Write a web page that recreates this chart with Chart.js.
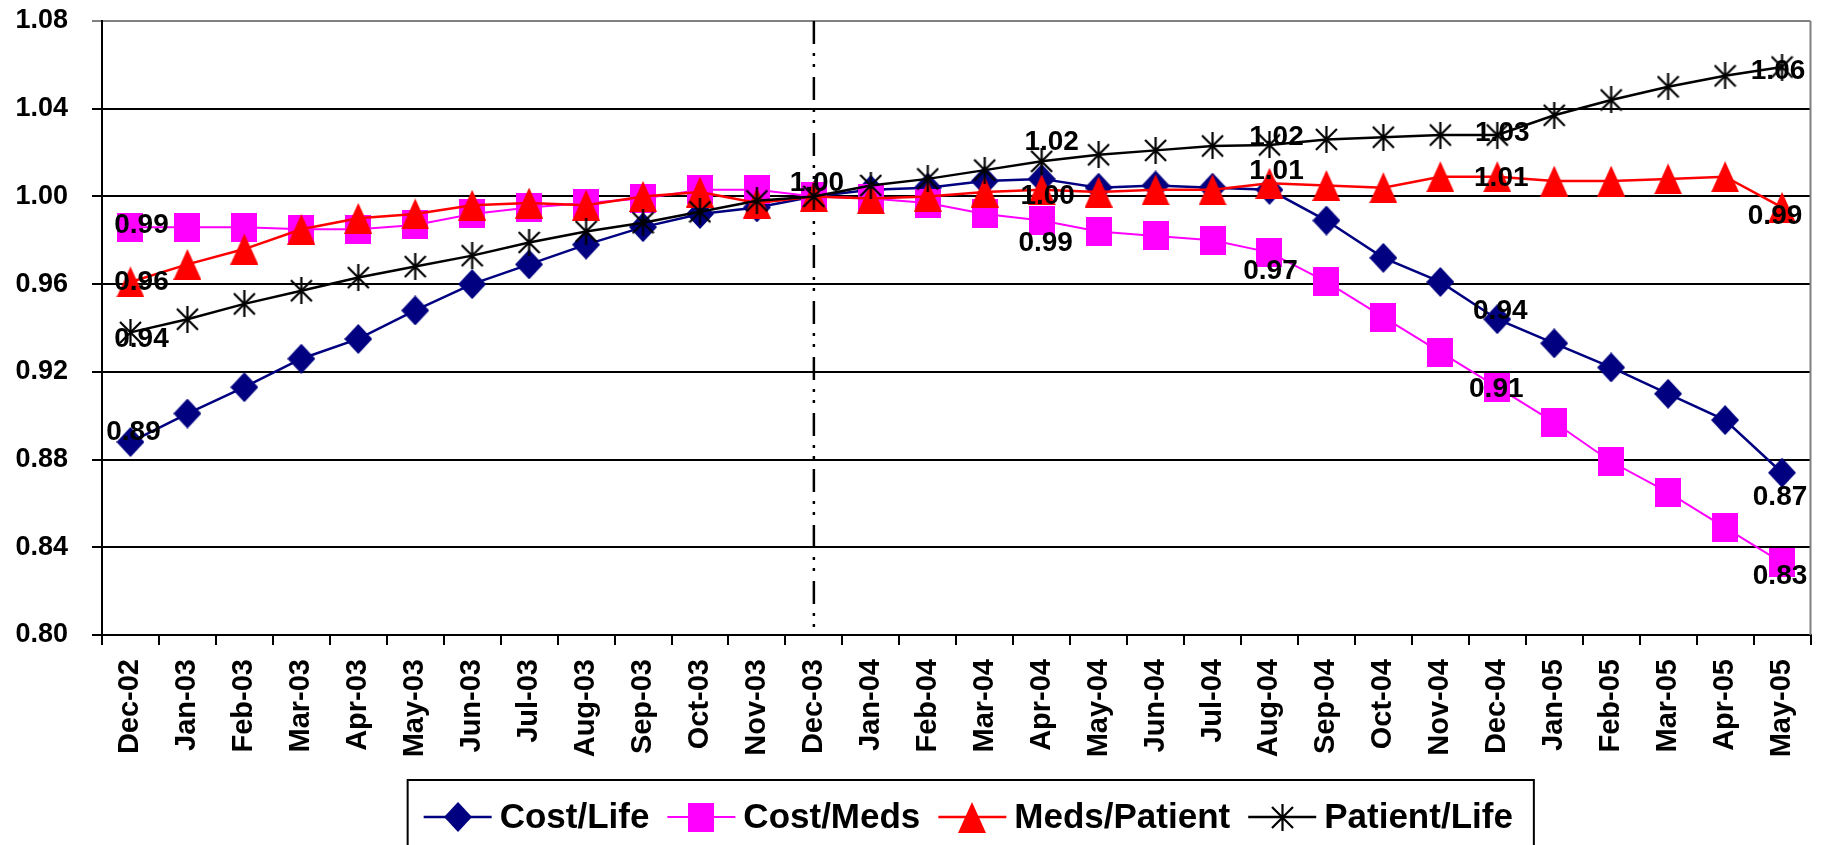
<!DOCTYPE html>
<html><head><meta charset="utf-8">
<script src="https://cdn.jsdelivr.net/npm/chart.js@4.4.0/dist/chart.umd.min.js"></script>
<style>html,body{margin:0;padding:0;background:#fff;overflow:hidden}canvas{display:block}</style>
</head><body>
<canvas id="c" width="1825" height="845"></canvas>
<script>
// ---------------- data ----------------
const categories = ['Dec-02','Jan-03','Feb-03','Mar-03','Apr-03','May-03','Jun-03','Jul-03','Aug-03','Sep-03','Oct-03','Nov-03',
  'Dec-03','Jan-04','Feb-04','Mar-04','Apr-04','May-04','Jun-04','Jul-04','Aug-04','Sep-04','Oct-04','Nov-04',
  'Dec-04','Jan-05','Feb-05','Mar-05','Apr-05','May-05'];
const costPerLife    = [0.888,0.901,0.913,0.926,0.935,0.948,0.960,0.969,0.978,0.986,0.992,0.995,
  1.000,1.003,1.004,1.007,1.008,1.004,1.005,1.004,1.003,0.989,0.972,0.961,0.944,0.933,0.922,0.910,0.898,0.874];
const costPerMeds    = [0.986,0.986,0.986,0.985,0.985,0.987,0.992,0.995,0.997,0.999,1.003,1.003,
  1.000,0.999,0.997,0.992,0.989,0.984,0.982,0.980,0.9745,0.961,0.945,0.929,0.913,0.897,0.879,0.865,0.849,0.833];
const medsPerPatient = [0.961,0.969,0.976,0.985,0.990,0.992,0.996,0.997,0.996,1.000,1.002,0.997,
  1.000,0.999,1.000,1.002,1.003,1.002,1.003,1.003,1.006,1.005,1.004,1.009,1.009,1.007,1.007,1.008,1.009,0.995];
const patientPerLife = [0.938,0.944,0.951,0.957,0.963,0.968,0.973,0.979,0.984,0.988,0.993,0.998,
  1.000,1.005,1.008,1.012,1.016,1.019,1.021,1.023,1.0235,1.026,1.027,1.028,1.028,1.037,1.044,1.050,1.055,1.059];
const seriesNames = ['Cost/Life','Cost/Meds','Meds/Patient','Patient/Life'];
const yTicks = [0.80,0.84,0.88,0.92,0.96,1.00,1.04,1.08];
const dividerCategory = 'Dec-03';
// which points carry a value label (index -> [dx, dy] placement offset in px)
const labelPlacement = [
  {0:[3,-10], 24:[3,-8], 29:[-2,25]},
  {0:[11,-2], 16:[4,23], 20:[1,19], 24:[-1,2], 29:[-2,14]},
  {0:[11,0], 16:[6,6], 20:[7,-12], 24:[4,2], 29:[-7,9]},
  {0:[11,7], 12:[3,-13], 16:[10,-19], 20:[7,-8], 24:[5,-2], 29:[-4,4]}
];

// ---------------- markers ----------------
function makeMarker(w, h, draw){ const c=document.createElement('canvas'); c.width=w; c.height=h; draw(c.getContext('2d'),w,h); return c; }
const diamond = makeMarker(28,30,(g,w,h)=>{g.fillStyle='#000080';g.beginPath();g.moveTo(w/2,0);g.lineTo(w,h/2);g.lineTo(w/2,h);g.lineTo(0,h/2);g.closePath();g.fill();});
const square = makeMarker(26,29,(g,w,h)=>{g.fillStyle='#FF00FF';g.fillRect(0,0,w,h);});
const triangle = makeMarker(28,31,(g,w,h)=>{g.fillStyle='#FF0000';g.beginPath();g.moveTo(w/2,0);g.lineTo(w,h);g.lineTo(0,h);g.closePath();g.fill();});
const star = makeMarker(23,27,(g,w,h)=>{g.strokeStyle='#000';g.lineWidth=2.2;g.beginPath();g.moveTo(w/2,0);g.lineTo(w/2,h);g.moveTo(1,3);g.lineTo(w-1,h-3);g.moveTo(w-1,3);g.lineTo(1,h-3);g.stroke();});

const FONT = '"Liberation Sans", Arial, sans-serif';
Chart.defaults.font.family = FONT;
Chart.defaults.font.weight = 'bold';
Chart.defaults.color = '#000';

function ds(label, data, color, marker, order, width){
  return { label, data, borderColor: color, backgroundColor: color, borderWidth: width, pointStyle: marker,
    pointRadius: 12, pointHoverRadius: 12, tension: 0, fill: false, order };
}

const dividerPlugin = {
  id: 'divider',
  beforeDatasetsDraw(chart){
    const ca = chart.chartArea, ctx = chart.ctx;
    ctx.save();
    ctx.strokeStyle = '#808080'; ctx.lineWidth = 2;
    ctx.beginPath(); ctx.moveTo(ca.right, ca.top); ctx.lineTo(ca.right, ca.bottom); ctx.stroke();
    const x = chart.scales.x.getPixelForValue(categories.indexOf(dividerCategory));
    ctx.strokeStyle = '#000'; ctx.lineWidth = 2.5; ctx.setLineDash([23,9,3,8,3,10]);
    ctx.beginPath(); ctx.moveTo(x, ca.top); ctx.lineTo(x, ca.bottom); ctx.stroke();
    ctx.restore();
  }
};

const valueLabelPlugin = {
  id: 'valueLabels',
  afterDatasetsDraw(chart){
    const ctx = chart.ctx;
    ctx.save();
    ctx.font = 'bold 28px ' + FONT; ctx.fillStyle = '#000'; ctx.textAlign = 'center'; ctx.textBaseline = 'middle';
    chart.data.datasets.forEach((d, di) => {
      const meta = chart.getDatasetMeta(di);
      Object.entries(labelPlacement[di]).forEach(([idx, off]) => {
        const el = meta.data[+idx];
        ctx.fillText(d.data[+idx].toFixed(2), el.x + off[0], el.y + off[1]);
      });
    });
    ctx.restore();
  }
};

const legendPlugin = {
  id: 'boxLegend',
  afterDraw(chart){
    const ctx = chart.ctx, ca = chart.chartArea;
    ctx.save();
    ctx.font = 'bold 35px ' + FONT;
    const lineLen = 68, gap = 8, spacing = 18;
    const items = chart.data.datasets.map(d => ({d, tw: ctx.measureText(d.label).width}));
    const total = items.reduce((s,it)=>s+lineLen+gap+it.tw,0) + spacing*(items.length-1);
    let x = (ca.left+ca.right)/2 + 12 - total/2;
    const cy = chart.height - 28;
    const boxLeft = x - 16, boxRight = x + total + 21, boxTop = chart.height - 65;
    ctx.strokeStyle = '#000'; ctx.lineWidth = 2;
    ctx.strokeRect(boxLeft, boxTop, boxRight - boxLeft, 120);
    items.forEach(it => {
      ctx.strokeStyle = it.d.borderColor; ctx.lineWidth = it.d.borderWidth;
      ctx.beginPath(); ctx.moveTo(x, cy); ctx.lineTo(x + lineLen, cy); ctx.stroke();
      const img = it.d.pointStyle;
      ctx.drawImage(img, Math.round(x + lineLen/2 - img.width/2), Math.round(cy - img.height/2));
      ctx.fillStyle = '#000'; ctx.textAlign = 'left'; ctx.textBaseline = 'middle';
      ctx.fillText(it.d.label, x + lineLen + gap, cy + 1);
      x += lineLen + gap + it.tw + spacing;
    });
    ctx.restore();
  }
};

new Chart(document.getElementById('c'), {
  type: 'line',
  data: {
    labels: categories,
    datasets: [
      ds(seriesNames[0], costPerLife, '#000080', diamond, 4, 2.5),
      ds(seriesNames[1], costPerMeds, '#FF00FF', square, 3, 2),
      ds(seriesNames[2], medsPerPatient, '#FF0000', triangle, 2, 2.5),
      ds(seriesNames[3], patientPerLife, '#000000', star, 1, 2.5)
    ]
  },
  options: {
    responsive: false, animation: false, devicePixelRatio: 1,
    events: [],
    layout: { padding: { top: 21, right: 13, bottom: 78, left: 0 } },
    plugins: { legend: { display: false }, tooltip: { enabled: false } },
    scales: {
      x: {
        type: 'category', offset: true,
        grid: { offset: true, drawOnChartArea: false, drawTicks: true, tickLength: 10, color: '#000', lineWidth: 2 },
        border: { display: true, color: '#000', width: 2 },
        ticks: { autoSkip: false, maxRotation: 90, minRotation: 90, padding: 14, color: '#000', font: { size: 29, weight: 'bold' } },
        afterFit: s => { s.height = 132; s.paddingLeft = 0; s.paddingRight = 0; }
      },
      y: {
        type: 'linear', min: yTicks[0], max: yTicks[yTicks.length-1],
        afterBuildTicks: s => { s.ticks = yTicks.map(v => ({ value: v })); },
        grid: { color: c => c.index === yTicks.length - 1 ? '#808080' : '#000', lineWidth: 2, tickLength: 10, drawTicks: true },
        border: { display: true, color: '#000', width: 2 },
        ticks: { padding: 24, color: '#000', font: { size: 27, weight: 'bold' }, callback: v => Number(v).toFixed(2) },
        afterFit: s => { s.width = 102; s.paddingTop = 0; s.paddingBottom = 0; }
      }
    }
  },
  plugins: [dividerPlugin, valueLabelPlugin, legendPlugin]
});
</script>
</body></html>
